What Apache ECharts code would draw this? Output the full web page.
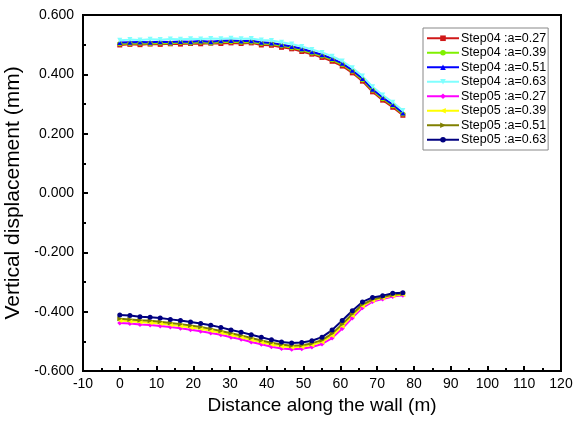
<!DOCTYPE html>
<html>
<head>
<meta charset="utf-8">
<script src="https://cdn.jsdelivr.net/npm/echarts@6/dist/echarts.min.js"></script>
<style>
  html, body { margin: 0; padding: 0; background: #fff; }
  #chart { width: 574px; height: 425px; }
</style>
</head>
<body>
<div id="chart"></div>
<script>
// distance along the wall (m)
var distance = [0, 2.75, 5.5, 8.25, 11, 13.75, 16.5, 19.25, 22, 24.75, 27.5, 30.25, 33, 35.75, 38.5,
  41.25, 44, 46.75, 49.5, 52.25, 55, 57.75, 60.5, 63.25, 66, 68.75, 71.5, 74.25, 77];

var seriesNames = ["Step04 :a=0.27", "Step04 :a=0.39", "Step04 :a=0.51", "Step04 :a=0.63",
  "Step05 :a=0.27", "Step05 :a=0.39", "Step05 :a=0.51", "Step05 :a=0.63"];

var step04a027 = [0.499, 0.501, 0.500, 0.502, 0.501, 0.503, 0.502, 0.504, 0.503, 0.505, 0.504, 0.506, 0.504, 0.506, 0.499,
  0.498, 0.491, 0.486, 0.477, 0.468, 0.457, 0.444, 0.428, 0.405, 0.377, 0.341, 0.313, 0.289, 0.262];
var step04a039 = [0.503, 0.504, 0.505, 0.504, 0.506, 0.505, 0.507, 0.506, 0.508, 0.506, 0.509, 0.510, 0.508, 0.509, 0.504,
  0.502, 0.496, 0.490, 0.482, 0.472, 0.462, 0.449, 0.433, 0.410, 0.382, 0.346, 0.318, 0.294, 0.266];
var step04a051 = [0.507, 0.508, 0.509, 0.508, 0.510, 0.509, 0.511, 0.510, 0.512, 0.510, 0.513, 0.514, 0.512, 0.513, 0.508,
  0.506, 0.500, 0.494, 0.486, 0.476, 0.466, 0.453, 0.437, 0.414, 0.386, 0.350, 0.322, 0.298, 0.270];
var step04a063 = [0.515, 0.517, 0.516, 0.518, 0.517, 0.519, 0.518, 0.520, 0.519, 0.521, 0.520, 0.522, 0.520, 0.521, 0.516,
  0.514, 0.508, 0.502, 0.494, 0.484, 0.474, 0.461, 0.445, 0.422, 0.394, 0.358, 0.330, 0.306, 0.278];

var step05a027 = [-0.438, -0.440, -0.443, -0.445, -0.448, -0.452, -0.456, -0.461, -0.466, -0.472, -0.478, -0.486, -0.493, -0.502, -0.510,
  -0.518, -0.524, -0.527, -0.525, -0.519, -0.509, -0.489, -0.457, -0.421, -0.387, -0.366, -0.357, -0.349, -0.345];
var step05a039 = [-0.430, -0.432, -0.435, -0.437, -0.440, -0.444, -0.448, -0.453, -0.458, -0.464, -0.471, -0.479, -0.486, -0.495, -0.503,
  -0.511, -0.517, -0.520, -0.518, -0.512, -0.502, -0.481, -0.449, -0.414, -0.381, -0.362, -0.354, -0.346, -0.342];
var step05a051 = [-0.424, -0.426, -0.429, -0.431, -0.434, -0.438, -0.442, -0.447, -0.452, -0.458, -0.465, -0.473, -0.480, -0.489, -0.497,
  -0.505, -0.511, -0.515, -0.513, -0.507, -0.496, -0.474, -0.442, -0.408, -0.376, -0.359, -0.351, -0.343, -0.340];
var step05a063 = [-0.411, -0.413, -0.417, -0.419, -0.421, -0.426, -0.430, -0.435, -0.440, -0.446, -0.453, -0.462, -0.469, -0.478, -0.486,
  -0.495, -0.502, -0.506, -0.504, -0.498, -0.486, -0.462, -0.430, -0.397, -0.367, -0.352, -0.346, -0.338, -0.336];

var values = [step04a027, step04a039, step04a051, step04a063, step05a027, step05a039, step05a051, step05a063];
var colors = ["#d01818", "#80f000", "#0000ff", "#80ffff", "#ff00ff", "#ffff00", "#808000", "#000080"];
var symbols = ["rect", "circle", "triangle", "triangle", "diamond", "triangle", "triangle", "circle"];
var rotations = [0, 0, 0, 180, 0, 90, -90, 0];

function pairs(ys) {
  return distance.map(function (x, i) { return [x, ys[i]]; });
}

var chart = echarts.init(document.getElementById("chart"));

var series = seriesNames.map(function (name, k) {
  return {
    name: name,
    type: "line",
    data: pairs(values[k]),
    color: colors[k],
    symbol: symbols[k],
    symbolRotate: rotations[k],
    symbolSize: 5,
    showSymbol: true,
    lineStyle: { width: 2, color: colors[k] },
    itemStyle: { color: colors[k] },
    animation: false,
  };
});

chart.setOption({
  backgroundColor: "#fff",
  textStyle: { fontFamily: "Liberation Sans, Arial, sans-serif" },
  grid: {
    left: 83,
    right: 13,
    top: 15,
    bottom: 54,
    outerBoundsMode: "none",
    containLabel: false,
    show: true,
    borderColor: "#000",
    borderWidth: 2,
  },
  legend: {
    orient: "vertical",
    left: 423,
    top: 28,
    width: 124,
    padding: [3, 2, 3, 3],
    itemGap: 0,
    itemWidth: 32,
    itemHeight: 7,
    borderColor: "#888",
    borderWidth: 1,
    backgroundColor: "#fff",
    data: seriesNames,
    textStyle: { fontSize: 12.5, color: "#000", padding: [0, 0, 0, -3], lineHeight: 14.5 },
  },
  xAxis: {
    type: "value",
    min: -10,
    max: 120,
    interval: 10,
    name: "Distance along the wall (m)",
    nameLocation: "middle",
    nameGap: 19,
    nameTextStyle: { fontSize: 19, color: "#000", verticalAlign: "top" },
    axisLine: { onZero: false, lineStyle: { color: "#000", width: 2 } },
    axisTick: { inside: true, length: 5, lineStyle: { color: "#000", width: 2 } },
    minorTick: { show: true, splitNumber: 2, length: 3, lineStyle: { color: "#000", width: 2 } },
    axisLabel: { fontSize: 14, color: "#000", margin: 6 },
    splitLine: { show: false },
  },
  yAxis: {
    type: "value",
    min: -0.6,
    max: 0.6,
    interval: 0.2,
    name: "Vertical displacement (mm)",
    nameLocation: "middle",
    nameGap: 47,
    nameTextStyle: { fontSize: 21, color: "#000" },
    axisLine: { onZero: false, lineStyle: { color: "#000", width: 2 } },
    axisTick: { inside: true, length: 5, lineStyle: { color: "#000", width: 2 } },
    minorTick: { show: true, splitNumber: 2, length: 3, lineStyle: { color: "#000", width: 2 } },
    axisLabel: {
      fontSize: 14,
      color: "#000",
      margin: 9,
      formatter: function (v) { return v.toFixed(3); },
    },
    splitLine: { show: false },
  },
  series: series,
});
</script>
</body>
</html>
